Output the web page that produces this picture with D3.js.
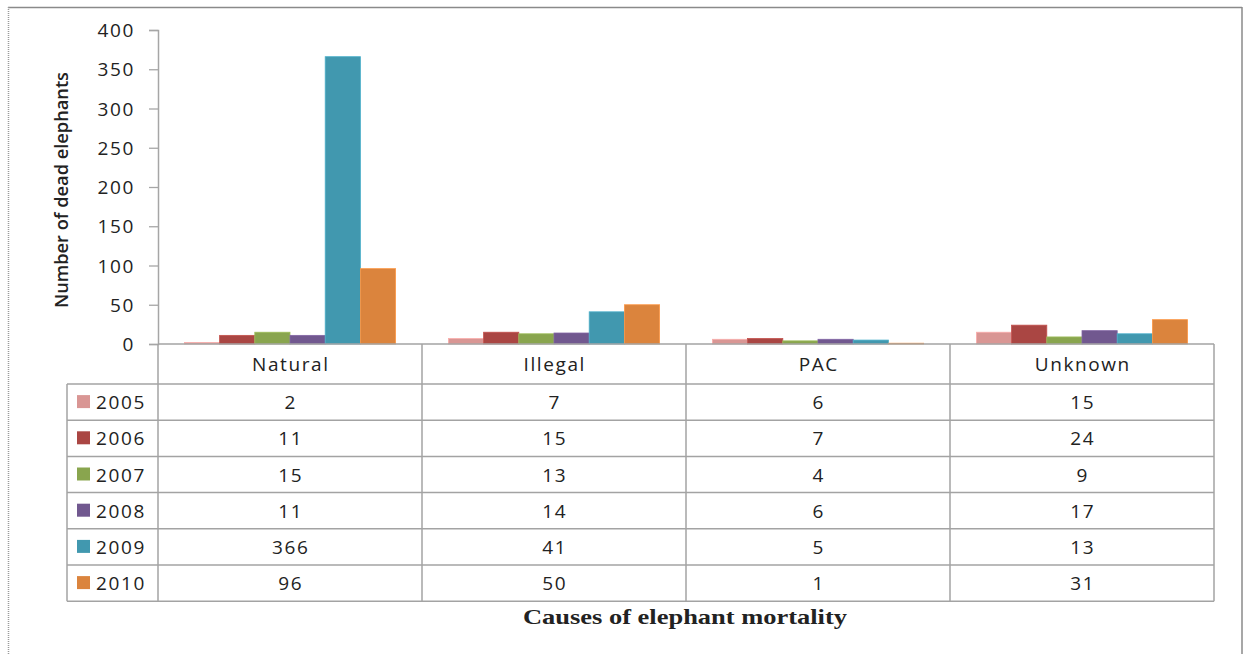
<!DOCTYPE html>
<html>
<head>
<meta charset="utf-8">
<script src="https://cdn.jsdelivr.net/npm/d3@7/dist/d3.min.js"></script>
<style>
  html, body { margin: 0; padding: 0; background: #fff; }
  svg { display: block; }
  text { font-family: "Open Sans", "Noto Sans", sans-serif; fill: #222; }
</style>
</head>
<body>
<svg id="chart" width="1243" height="654"></svg>
<script>
// Elephant mortality by cause, 2005–2010
const causes = ["Natural", "Illegal", "PAC", "Unknown"];
const years = ["2005", "2006", "2007", "2008", "2009", "2010"];
const v2005 = [2, 7, 6, 15];
const v2006 = [11, 15, 7, 24];
const v2007 = [15, 13, 4, 9];
const v2008 = [11, 14, 6, 17];
const v2009 = [366, 41, 5, 13];
const v2010 = [96, 50, 1, 31];
const yTicks = [0, 50, 100, 150, 200, 250, 300, 350, 400];
const colors = ["#D99694", "#AA4643", "#89A54E", "#71588F", "#4198AF", "#DB843D"];

const series = [v2005, v2006, v2007, v2008, v2009, v2010].map((vals, i) => ({ year: years[i], vals, color: colors[i] }));

const svg = d3.select("#chart");
const FS = 19, LS = 1.6;

// outer frame
const frame = svg.append("g");
frame.append("line").attr("x1", 8).attr("x2", 1242).attr("y1", 7.5).attr("y2", 7.5).attr("stroke", "#8a8a8a").attr("stroke-width", 1.5);
frame.append("line").attr("x1", 1242).attr("x2", 1242).attr("y1", 7).attr("y2", 654).attr("stroke", "#8a8a8a").attr("stroke-width", 1.5);
frame.append("line").attr("x1", 8.5).attr("x2", 8.5).attr("y1", 7).attr("y2", 654).attr("stroke", "#9a9a9a").attr("stroke-width", 1.5).attr("stroke-dasharray", "1,1");

const plotLeft = 158, plotRight = 1214, plotTop = 30, plotBottom = 344;

const x = d3.scaleBand().domain(causes).range([plotLeft, plotRight]).paddingInner(0).paddingOuter(0);
const xSub = d3.scaleBand().domain(years).range([0, x.bandwidth()]).paddingInner(0).paddingOuter(0.75);
const y = d3.scaleLinear().domain([0, 400]).range([plotBottom, plotTop]);

// bars
const groups = svg.append("g").selectAll("g").data(series).join("g").attr("fill", d => d.color);
groups.selectAll("rect")
  .data(d => d.vals.map((v, i) => ({ cause: causes[i], v, year: d.year, color: d.color })))
  .join("rect")
  .attr("x", d => x(d.cause) + xSub(d.year))
  .attr("width", xSub.bandwidth())
  .attr("y", d => y(d.v))
  .attr("height", d => plotBottom - y(d.v))
  .attr("stroke", d => d3.color(d.color).brighter(0.4))
  .attr("stroke-width", 0.8);

// y axis
const yAxis = d3.axisLeft(y).tickValues(yTicks).tickSize(9).tickPadding(14);
const yg = svg.append("g").attr("transform", `translate(${plotLeft},0)`).call(yAxis);
yg.select(".domain").attr("stroke", "#a6a6a6").attr("stroke-width", 1.5);
yg.selectAll(".tick line").attr("stroke", "#a6a6a6").attr("stroke-width", 1.3);
yg.selectAll(".tick text").attr("font-size", FS).attr("fill", "#222")
  .style("font-family", "'Open Sans', sans-serif").attr("letter-spacing", LS).attr("dy", "0.35em");

// y title
svg.append("text")
  .attr("transform", `translate(68,190) rotate(-90)`)
  .attr("text-anchor", "middle")
  .attr("font-size", 18)
  .attr("font-weight", 600)
  .attr("textLength", 236)
  .attr("lengthAdjust", "spacingAndGlyphs")
  .text("Number of dead elephants");

// data table beneath the axis
const tableLeft = 67, rowTop = 384, rowH = 36.2;
const lineColor = "#a3a3a3";
const tbl = svg.append("g");
const rowsBottom = rowTop + rowH * years.length;

// base line of the plot across categories
tbl.append("line").attr("x1", plotLeft).attr("x2", plotRight).attr("y1", plotBottom).attr("y2", plotBottom)
  .attr("stroke", lineColor).attr("stroke-width", 1.5);
// row lines
d3.range(years.length + 1).forEach(i => {
  tbl.append("line").attr("x1", tableLeft).attr("x2", plotRight)
    .attr("y1", rowTop + i * rowH).attr("y2", rowTop + i * rowH)
    .attr("stroke", lineColor).attr("stroke-width", 1.5);
});
// vertical lines
tbl.append("line").attr("x1", tableLeft).attr("x2", tableLeft).attr("y1", rowTop).attr("y2", rowsBottom).attr("stroke", lineColor).attr("stroke-width", 1.5);
causes.forEach(c => {
  tbl.append("line").attr("x1", x(c)).attr("x2", x(c)).attr("y1", plotBottom).attr("y2", rowsBottom).attr("stroke", lineColor).attr("stroke-width", 1.5);
});
tbl.append("line").attr("x1", plotRight).attr("x2", plotRight).attr("y1", plotBottom).attr("y2", rowsBottom).attr("stroke", lineColor).attr("stroke-width", 1.5);

// category header labels
tbl.selectAll("text.cat").data(causes).join("text")
  .attr("class", "cat")
  .attr("x", d => x(d) + x.bandwidth() / 2 + LS / 2)
  .attr("y", (plotBottom + rowTop) / 2 + 7)
  .attr("text-anchor", "middle")
  .attr("font-size", FS)
  .attr("letter-spacing", LS)
  .text(d => d);

// legend keys and values per row
series.forEach((s, i) => {
  const cy = rowTop + i * rowH + rowH / 2;
  tbl.append("rect").attr("x", 77).attr("y", cy - 7).attr("width", 13).attr("height", 13).attr("fill", s.color);
  tbl.append("text").attr("x", 96).attr("y", cy + 7).attr("font-size", FS).attr("letter-spacing", LS).text(s.year);
  s.vals.forEach((v, j) => {
    tbl.append("text")
      .attr("x", x(causes[j]) + x.bandwidth() / 2 + LS / 2)
      .attr("y", cy + 7)
      .attr("text-anchor", "middle")
      .attr("font-size", FS)
      .attr("letter-spacing", LS)
      .text(v);
  });
});

// x title
svg.append("text")
  .attr("x", 685).attr("y", 624)
  .attr("text-anchor", "middle")
  .attr("font-size", 22)
  .attr("font-weight", "bold")
  .attr("textLength", 324)
  .attr("lengthAdjust", "spacingAndGlyphs")
  .style("font-family", "'Liberation Serif', 'DejaVu Serif', serif")
  .text("Causes of elephant mortality");
</script>
</body>
</html>
